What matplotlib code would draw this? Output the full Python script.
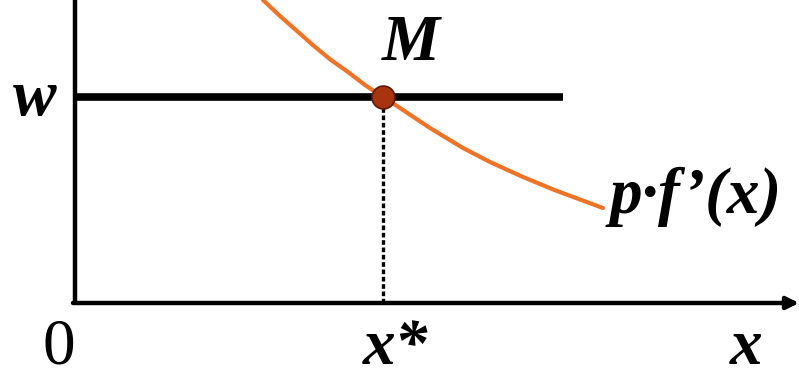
"""
Profit maximisation diagram: wage line w meets p*f'(x) at M.
"""

import matplotlib.pyplot as plt

# === DATA (x = input quantity, y = value) ===
W = 2.06                      # wage level
X_STAR = 3.08                 # optimal input
W_LINE_END = 4.88             # where the wage line stops

# p*f'(x)
curve_x = [1.88, 2.05, 2.22, 2.39, 2.56, 2.73, 2.90, 3.08,
           3.25, 3.55, 3.88, 4.15, 4.48, 4.82, 5.28]
curve_y = [3.03, 2.87, 2.72, 2.57, 2.43, 2.31, 2.18, 2.06,
           1.95, 1.75, 1.55, 1.41, 1.26, 1.12, 0.95]

# === STYLE ===
ORANGE = "#ef7326"
POINT_FILL = "#a8340f"
POINT_EDGE = "#5e1a08"
FONT = "Liberation Serif"
FS = 47


def main():
    fig = plt.figure(figsize=(7.99, 3.68), dpi=100)
    ax = fig.add_axes([0, 0, 1, 1])
    ax.set_xlim(-0.75, 7.24)
    ax.set_ylim(-0.65, 3.03)
    ax.axis("off")

    # axes
    ax.plot([0, 0], [0, 3.03], color="black", lw=3.2, solid_capstyle="butt")
    ax.annotate("", xy=(7.24, 0), xytext=(-0.02, 0),
                arrowprops=dict(arrowstyle="-|>", color="black", lw=3.2,
                                mutation_scale=18, shrinkA=0, shrinkB=0))

    # wage line
    ax.plot([0, W_LINE_END], [W, W], color="black", lw=5.5, solid_capstyle="butt")

    # marginal value product curve
    ax.plot(curve_x, curve_y, color=ORANGE, lw=3.0, solid_capstyle="round",
            solid_joinstyle="round", zorder=3)

    # dotted drop line to x*
    ax.plot([X_STAR, X_STAR], [0, W], color="black", lw=2.4,
            linestyle=(0, (1.4, 0.8)), zorder=2)

    # point M
    ax.plot([X_STAR], [W], "o", markersize=16.5, color=POINT_FILL,
            markeredgecolor=POINT_EDGE, markeredgewidth=1.2, zorder=4)

    # labels
    bi = dict(family=FONT, fontsize=FS, fontweight="bold", fontstyle="italic",
              va="baseline")
    ax.text(-0.40, 1.88, "w", ha="center", **bi)
    ax.text(3.36, 2.43, "M", ha="center", **bi)
    ax.text(5.35, 0.90, "p·f’(x)", ha="left", **bi)
    ax.text(2.88, -0.61, "x*", ha="left", **bi)
    ax.text(6.71, -0.61, "x", ha="center", **bi)
    ax.text(-0.16, -0.61, "0", ha="center", va="baseline",
            family=FONT, fontsize=FS)

    plt.savefig("out.png", dpi=100)
    plt.close()


if __name__ == "__main__":
    main()
